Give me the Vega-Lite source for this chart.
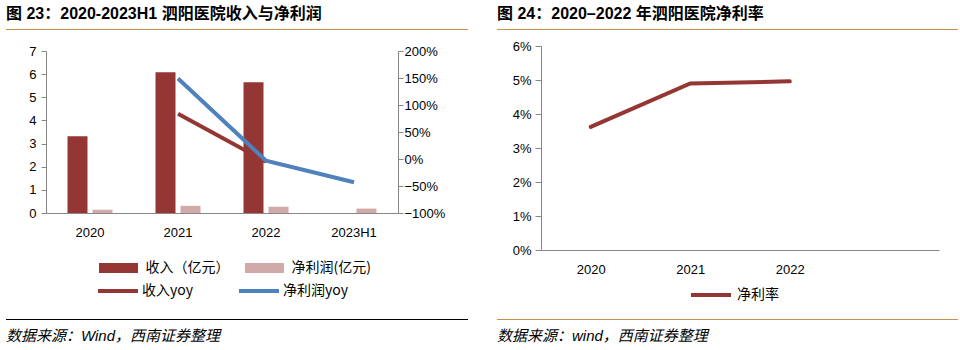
{
  "$schema": "https://vega.github.io/schema/vega-lite/v6.json",
  "padding": {"left": 6, "top": 5, "right": 0, "bottom": 0},
  "background": "white",
  "datasets": {
    "bars": [
      {"year": "2020", "series": "收入（亿元）", "value": 3.32},
      {"year": "2020", "series": "净利润(亿元)", "value": 0.14},
      {"year": "2021", "series": "收入（亿元）", "value": 6.08},
      {"year": "2021", "series": "净利润(亿元)", "value": 0.31},
      {"year": "2022", "series": "收入（亿元）", "value": 5.65},
      {"year": "2022", "series": "净利润(亿元)", "value": 0.27},
      {"year": "2023H1", "series": "净利润(亿元)", "value": 0.19}
    ],
    "yoy": [
      {"year": "2021", "series": "收入yoy", "value": 0.84},
      {"year": "2022", "series": "收入yoy", "value": -0.05},
      {"year": "2021", "series": "净利润yoy", "value": 1.49},
      {"year": "2022", "series": "净利润yoy", "value": -0.03},
      {"year": "2023H1", "series": "净利润yoy", "value": -0.43}
    ],
    "margin": [
      {"year": "2020", "series": "净利率", "value": 0.0362},
      {"year": "2021", "series": "净利率", "value": 0.049},
      {"year": "2022", "series": "净利率", "value": 0.0496}
    ],
    "blank": [{"k": 1}]
  },
  "config": {
    "view": {"stroke": null},
    "axis": {
      "labelFont": "Liberation Sans",
      "labelFontSize": 13,
      "labelColor": "#000000",
      "domainColor": "#868686",
      "tickColor": "#868686",
      "grid": false,
      "title": null
    },
    "legend": {
      "labelFont": "Noto Sans CJK SC",
      "labelFontSize": 14,
      "labelColor": "#000000",
      "title": null
    },
    "title": {"font": "Liberation Sans, Noto Sans CJK SC", "color": "#000000"}
  },
  "resolve": {
    "scale": {"color": "independent", "stroke": "independent"},
    "legend": {"color": "independent", "stroke": "independent"}
  },
  "hconcat": [
    {
      "vconcat": [
        {
          "width": 462,
          "height": 1,
          "view": {"fill": "#C4914F", "stroke": null},
          "title": {"text": "图 23：2020-2023H1 泗阳医院收入与净利润", "anchor": "start", "fontSize": 16, "fontWeight": "bold", "offset": 2},
          "data": {"name": "blank"},
          "mark": {"type": "text"},
          "encoding": {"text": {"value": ""}}
        },
        {
          "hconcat": [
            {
              "width": 1,
              "height": 1,
              "data": {"name": "blank"},
              "mark": {"type": "text"},
              "encoding": {"text": {"value": ""}}
            },
            {
              "width": 352,
              "height": 162,
              "layer": [
                {
                  "data": {"name": "yoy"},
                  "transform": [{"filter": "datum.series == '收入yoy'"}],
                  "mark": {"type": "line", "strokeWidth": 4, "strokeCap": "butt"},
                  "encoding": {
                    "x": {"field": "year", "type": "nominal", "bandPosition": 0.5, "scale": {"domain": ["2020", "2021", "2022", "2023H1"], "paddingInner": 0, "paddingOuter": 0}, "axis": {"labelAngle": 0, "ticks": false, "labelPadding": 13}},
                    "y": {"field": "value", "type": "quantitative", "scale": {"domain": [-1, 2]}, "axis": null},
                    "stroke": {"field": "series", "type": "nominal", "scale": {"domain": ["收入yoy", "净利润yoy"], "range": ["#943634", "#4F81BD"]},
                      "legend": {"orient": "none", "direction": "horizontal", "legendX": 61, "legendY": 229, "padding": 4, "symbolType": "M-4,0L4,0", "symbolSize": 100, "symbolStrokeWidth": 4, "labelOffset": 17, "columnPadding": 38}}
                  }
                },
                {
                  "data": {"name": "bars"},
                  "mark": {"type": "bar"},
                  "encoding": {
                    "x": {"field": "year", "type": "nominal"},
                    "xOffset": {"field": "series", "type": "nominal", "scale": {"domain": ["收入（亿元）", "净利润(亿元)"], "paddingInner": 0.2, "paddingOuter": 0.86}},
                    "y": {"field": "value", "type": "quantitative", "scale": {"domain": [0, 7]}, "axis": {"values": [0, 1, 2, 3, 4, 5, 6, 7], "tickSize": 5, "labelPadding": 5, "minExtent": 39}},
                    "color": {"field": "series", "type": "nominal", "scale": {"domain": ["收入（亿元）", "净利润(亿元)"], "range": ["#943634", "#D0A9A9"]},
                      "legend": {"orient": "none", "direction": "horizontal", "legendX": 65.5, "legendY": 210, "padding": 0, "symbolType": "M-3.9,-1L3.9,-1L3.9,1L-3.9,1Z", "symbolSize": 100, "symbolStrokeWidth": 0, "labelOffset": 20, "columnPadding": 15}}
                  }
                },
                {
                  "data": {"name": "yoy"},
                  "transform": [{"filter": "datum.series == '净利润yoy'"}],
                  "mark": {"type": "line", "strokeWidth": 4, "strokeCap": "butt"},
                  "encoding": {
                    "x": {"field": "year", "type": "nominal", "bandPosition": 0.5},
                    "y": {"field": "value", "type": "quantitative", "scale": {"domain": [-1, 2]}, "axis": {"orient": "right", "values": [-1, -0.5, 0, 0.5, 1, 1.5, 2], "format": ".0%", "tickSize": 5, "labelPadding": 1}},
                    "stroke": {"field": "series", "type": "nominal"}
                  }
                }
              ],
              "resolve": {"scale": {"y": "independent"}}
            }
          ],
          "spacing": 0,
          "resolve": {
            "scale": {"color": "independent", "stroke": "independent"},
            "legend": {"color": "independent", "stroke": "independent"}
          }
        },
        {
          "width": 462,
          "height": 1,
          "view": {"fill": "#000000", "stroke": null},
          "title": {"text": "数据来源：Wind，西南证券整理", "orient": "bottom", "anchor": "start", "fontSize": 15, "fontWeight": "normal", "fontStyle": "italic", "offset": 4},
          "data": {"name": "blank"},
          "mark": {"type": "text"},
          "encoding": {"text": {"value": ""}}
        }
      ],
      "spacing": 10,
      "resolve": {
        "scale": {"color": "independent", "stroke": "independent"},
        "legend": {"color": "independent", "stroke": "independent"}
      }
    },
    {
      "vconcat": [
        {
          "width": 461,
          "height": 1,
          "view": {"fill": "#C4914F", "stroke": null},
          "title": {"text": "图 24：2020–2022 年泗阳医院净利率", "anchor": "start", "fontSize": 16, "fontWeight": "bold", "offset": 2},
          "data": {"name": "blank"},
          "mark": {"type": "text"},
          "encoding": {"text": {"value": ""}}
        },
        {
          "hconcat": [
            {
              "width": 1,
              "height": 1,
              "data": {"name": "blank"},
              "mark": {"type": "text"},
              "encoding": {"text": {"value": ""}}
            },
            {
              "width": 398,
              "height": 204,
              "data": {"name": "margin"},
              "mark": {"type": "line", "strokeWidth": 4, "strokeCap": "round"},
              "encoding": {
                "x": {"field": "year", "type": "nominal", "scale": {"type": "point", "padding": 0.5, "domain": ["2020", "2021", "2022", "2023"]}, "axis": {"labelAngle": 0, "ticks": false, "labelPadding": 13, "labelExpr": "datum.value == '2023' ? '' : datum.value"}},
                "y": {"field": "value", "type": "quantitative", "scale": {"domain": [0, 0.06]}, "axis": {"values": [0, 0.01, 0.02, 0.03, 0.04, 0.05, 0.06], "format": ".0%", "tickSize": 6, "labelPadding": 4, "minExtent": 43}},
                "stroke": {"field": "series", "type": "nominal", "scale": {"domain": ["净利率"], "range": ["#943634"]},
                  "legend": {"orient": "none", "direction": "horizontal", "legendX": 158, "legendY": 237, "padding": 5, "symbolType": "M-4,0L4,0", "symbolSize": 100, "symbolStrokeWidth": 4, "labelOffset": 19}}
              }
            }
          ],
          "spacing": 0,
          "resolve": {
            "scale": {"color": "independent", "stroke": "independent"},
            "legend": {"color": "independent", "stroke": "independent"}
          }
        },
        {
          "width": 461,
          "height": 1,
          "view": {"fill": "#C4914F", "stroke": null},
          "title": {"text": "数据来源：wind，西南证券整理", "orient": "bottom", "anchor": "start", "fontSize": 15, "fontWeight": "normal", "fontStyle": "italic", "offset": 4},
          "data": {"name": "blank"},
          "mark": {"type": "text"},
          "encoding": {"text": {"value": ""}}
        }
      ],
      "spacing": 5,
      "resolve": {
        "scale": {"color": "independent", "stroke": "independent"},
        "legend": {"color": "independent", "stroke": "independent"}
      }
    }
  ],
  "spacing": 29
}
